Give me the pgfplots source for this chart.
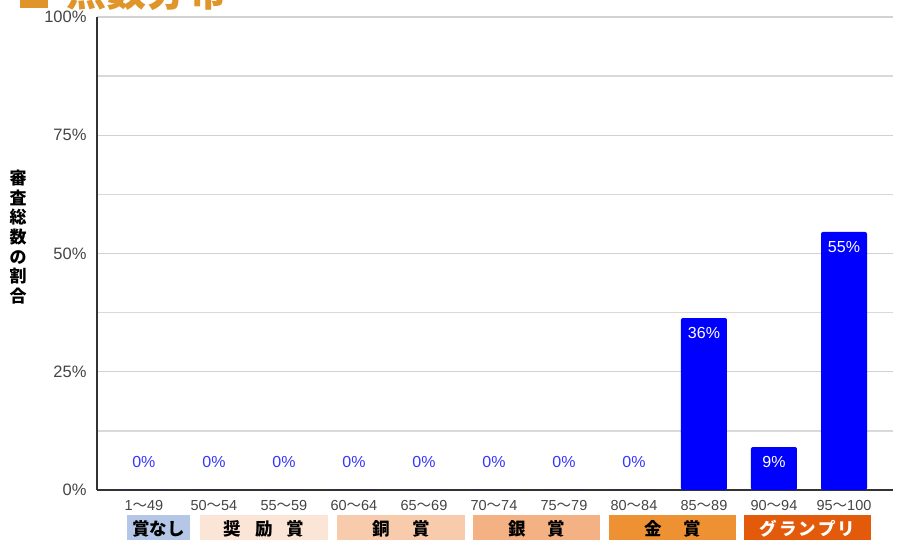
\documentclass[border=0pt]{standalone}
\usepackage{pgfplots}
\pgfplotsset{compat=1.18}
\usepackage{fontspec}
\setmainfont{Liberation Sans}
\newfontfamily\cjk{Noto Sans CJK JP}
\newcommand\wv{{\cjk 〜}}
\definecolor{titleor}{HTML}{E0952A}
\definecolor{barblue}{HTML}{0000FF}
\definecolor{zerolbl}{HTML}{3535FF}
\definecolor{ticktxt}{HTML}{444444}
\definecolor{bandA}{HTML}{B4C7E7}
\definecolor{bandB}{HTML}{FBE5D6}
\definecolor{bandC}{HTML}{F8CBAD}
\definecolor{bandD}{HTML}{F4B183}
\definecolor{bandE}{HTML}{ED9133}
\definecolor{bandF}{HTML}{E35A0A}
\begin{document}
\begin{tikzpicture}[x=1pt,y=1pt]
\useasboundingbox (0,0) rectangle (901,540);
\clip (0,0) rectangle (901,540);
% title (partially cut off at the top edge)
\fill[titleor] (20,532) rectangle (48,548);
\node[anchor=base west, inner sep=0, text=titleor, font=\cjk\bfseries\fontsize{40}{40}\selectfont] at (66,533) {点数分布};
% y label
\node[align=center, inner sep=0, font=\cjk\bfseries\fontsize{17}{19.7}\selectfont] at (18,303) {審\\査\\総\\数\\の\\割\\合};
\begin{axis}[
  at={(97pt,50pt)}, anchor=south west, scale only axis,
  width=796pt, height=473pt,
  xmin=-0.67, xmax=10.7, ymin=0, ymax=100,
  axis lines=left,
  axis line style={-, draw=black!80, line width=1.5pt},
  ytick={0,25,50,75,100},
  minor ytick={12.5,37.5,62.5,87.5},
  ymajorgrids, yminorgrids,
  major grid style={draw=gray!35, line width=1.3pt},
  minor grid style={draw=gray!30, line width=1.3pt},
  yticklabel={\pgfmathprintnumber{\tick}\%},
  yticklabel style={font=\fontsize{16.5}{16.5}\selectfont, text=ticktxt, xshift=-7pt},
  xtick={0,...,10},
  xticklabels={1\wv49,50\wv54,55\wv59,60\wv64,65\wv69,70\wv74,75\wv79,80\wv84,85\wv89,90\wv94,95\wv100},
  xticklabel style={font=\fontsize{14.5}{14.5}\selectfont, text=ticktxt, yshift=-7pt},
  major tick length=0pt, minor tick length=0pt,
  tick style={draw=none},
  /pgf/number format/assume math mode=true,
  clip=false,
]
\addplot[ybar, bar width=46pt, bar shift=0pt, draw=none, fill=barblue,
  nodes near coords={0\%}, nodes near coords align={center},
  every node near coord/.append style={anchor=center, yshift=28pt, text=zerolbl, font=\fontsize{16}{16}\selectfont}]
  coordinates {(0,0) (1,0) (2,0) (3,0) (4,0) (5,0) (6,0) (7,0)};
\addplot[ybar, bar width=46pt, bar shift=0pt, draw=none, fill=barblue, rounded corners=2pt,
  nodes near coords={\pgfmathprintnumber[fixed,precision=0]{\pgfplotspointmeta}\%},
  nodes near coords align={center},
  every node near coord/.append style={anchor=center, yshift=-15pt, text=white, font=\fontsize{16}{16}\selectfont, /pgf/number format/assume math mode=true}]
  coordinates {(8,36.36) (9,9.09) (10,54.55)};
\end{axis}
% award bands
\begin{scope}[font=\cjk\bfseries\fontsize{17.5}{17.5}\selectfont]
\fill[bandA] (127,25) rectangle (190,-5);
\node at (158.5,11) {賞なし};
\fill[bandB] (200,25) rectangle (328,-5);
\node at (264,11) {奨\hspace{14pt}励\hspace{14pt}賞};
\fill[bandC] (337,25) rectangle (465,-5);
\node at (401,11) {銅\hspace{22pt}賞};
\fill[bandD] (473,25) rectangle (600,-5);
\node at (536.5,11) {銀\hspace{22pt}賞};
\fill[bandE] (609,25) rectangle (736,-5);
\node at (672.5,11) {金\hspace{22pt}賞};
\fill[bandF] (744,25) rectangle (871,-5);
\node[text=white] at (807.5,11) {グ\hspace{2pt}ラ\hspace{2pt}ン\hspace{2pt}プ\hspace{2pt}リ};
\end{scope}
\end{tikzpicture}
\end{document}
